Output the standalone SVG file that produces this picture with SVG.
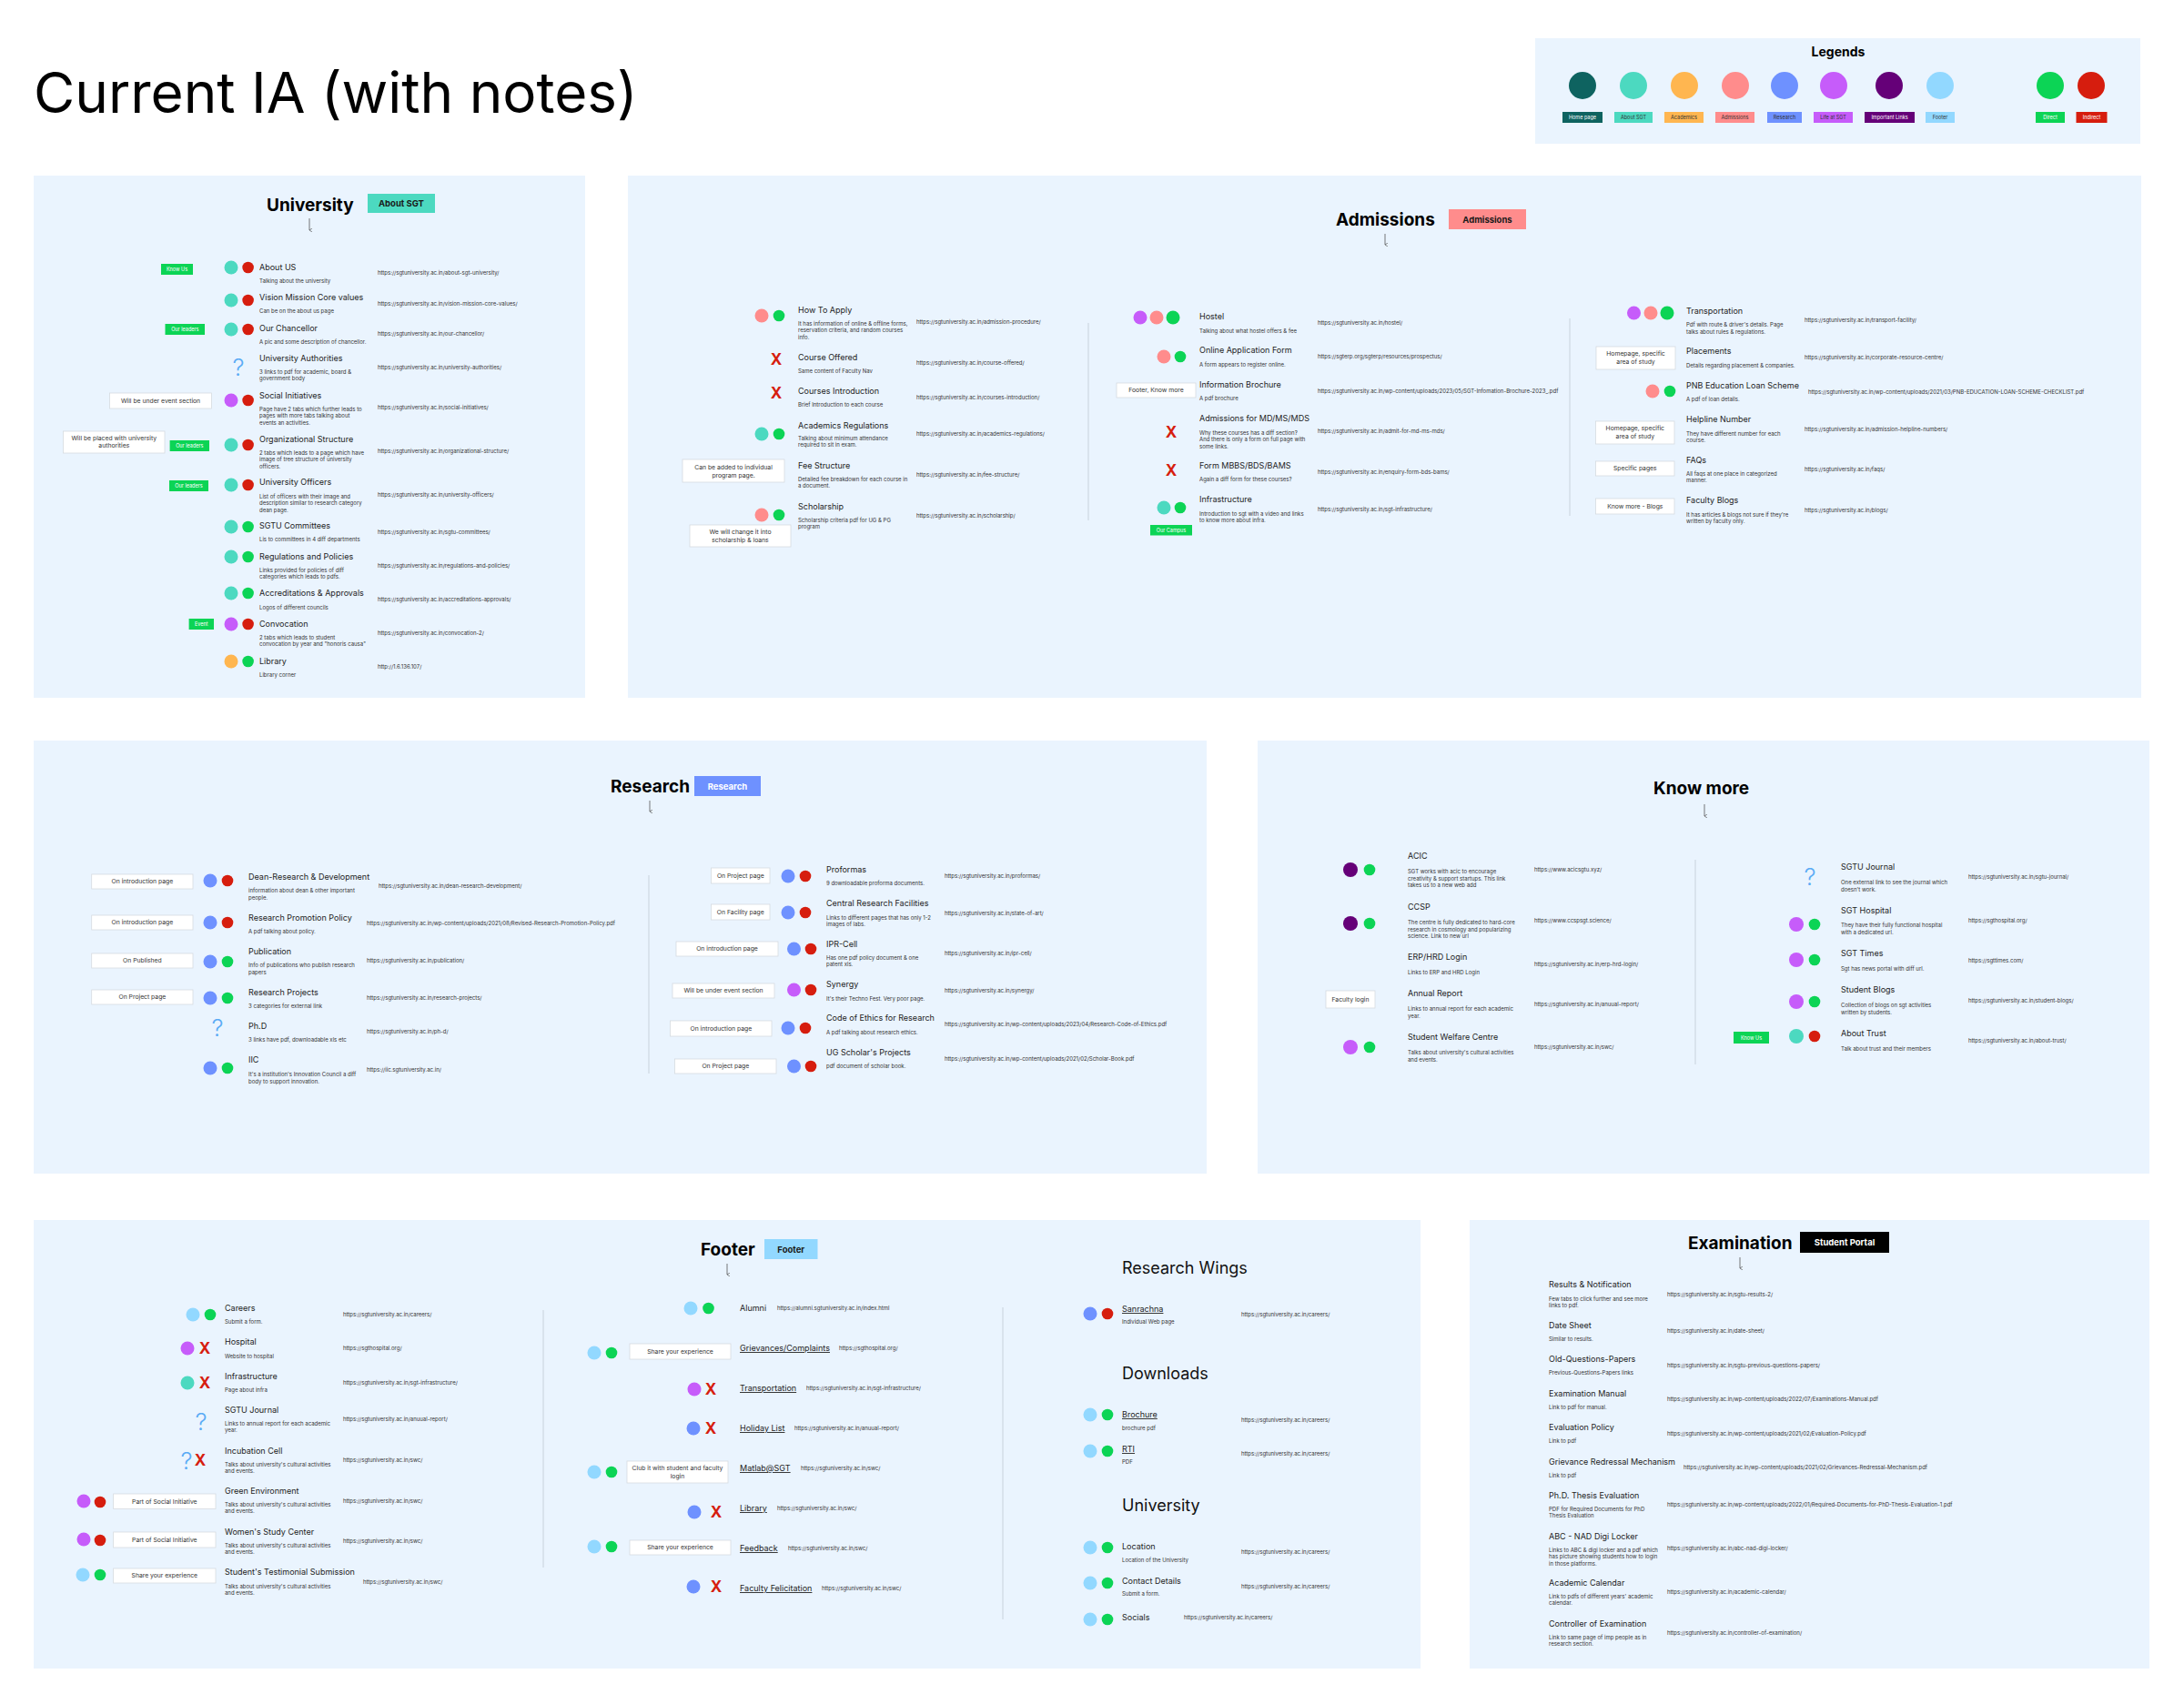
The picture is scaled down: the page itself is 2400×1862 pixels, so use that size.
<svg xmlns="http://www.w3.org/2000/svg" width="2400" height="1862" viewBox="0 0 2400 1862">
<defs>
<marker id="ah" markerWidth="4" markerHeight="4" refX="2" refY="3.5" orient="auto-start-reverse" markerUnits="userSpaceOnUse"><path d="M0,0.5 L2,3.5 L4,0.5" fill="none" stroke="#555" stroke-width="0.7"/></marker>
</defs>
<style>
text{font-family:Inter,"Noto Sans","Liberation Sans",sans-serif}
.pg{font-size:62px;fill:#000}
.panel{fill:#EAF4FE}
.h{font-size:19px;font-weight:700;fill:#000}
.h2{font-size:18px;fill:#111}
.bd{font-size:9.5px;font-weight:700;fill:#1a1a1a;text-anchor:middle}
.bw{font-size:9.5px;font-weight:700;fill:#fff;text-anchor:middle}
.t{font-size:9px;fill:#222}
.tu{font-size:9px;fill:#222;text-decoration:underline}
.d{font-size:6px;fill:#333}
.u{font-size:6px;fill:#333}
.nb{fill:#fff;stroke:#d6dbe0;stroke-width:0.8}
.nt{font-size:6.8px;fill:#333;text-anchor:middle}
.tag{fill:#0CD455}
.tg{font-size:5.5px;fill:#fff;text-anchor:middle}
.lt{font-size:5.5px;text-anchor:middle}
.x{font-size:17px;font-weight:700;fill:#D61D0E;text-anchor:middle}
.q{font-size:26px;font-weight:300;fill:#5AABF5;text-anchor:middle}
.dv{stroke:#c8d2dc;stroke-width:1}
.ar{stroke:#555;stroke-width:0.8;fill:none;marker-end:url(#ah)}
.home{fill:#0E6360}.about{fill:#4CD9C0}.acad{fill:#FFB650}.adm{fill:#FF8C8C}.res{fill:#6E91FF}.life{fill:#C65CFA}.imp{fill:#650078}.foot{fill:#92D8FF}.dir{fill:#0CD455}.ind{fill:#D61D0E}
</style>
<rect width="2400" height="1862" fill="#fff"/>
<text class="pg" x="37" y="124">Current IA (with notes)</text>

<g id="legend">
<rect class="panel" x="1687" y="42" width="665" height="116"/>
<text x="2020" y="62" font-size="14" font-weight="700" text-anchor="middle" fill="#000">Legends</text>
<circle class="home" cx="1739" cy="94" r="15"/><circle class="about" cx="1795" cy="94" r="15"/><circle class="acad" cx="1851" cy="94" r="15"/><circle class="adm" cx="1907" cy="94" r="15"/><circle class="res" cx="1961" cy="94" r="15"/><circle class="life" cx="2015" cy="94" r="15"/><circle class="imp" cx="2076" cy="94" r="15"/><circle class="foot" cx="2132" cy="94" r="15"/><circle class="dir" cx="2253" cy="94" r="15"/><circle class="ind" cx="2298" cy="94" r="15"/>
<rect class="home" x="1717" y="123" width="44" height="12"/><text class="lt" x="1739" y="131" fill="#fff">Home page</text>
<rect class="about" x="1774" y="123" width="42" height="12"/><text class="lt" x="1795" y="131" fill="#333">About SGT</text>
<rect class="acad" x="1829" y="123" width="43" height="12"/><text class="lt" x="1850.5" y="131" fill="#333">Academics</text>
<rect class="adm" x="1885" y="123" width="43" height="12"/><text class="lt" x="1906.5" y="131" fill="#333">Admissions</text>
<rect class="res" x="1942" y="123" width="38" height="12"/><text class="lt" x="1961" y="131" fill="#333">Research</text>
<rect class="life" x="1993" y="123" width="43" height="12"/><text class="lt" x="2014.5" y="131" fill="#333">Life at SGT</text>
<rect class="imp" x="2049" y="123" width="55" height="12"/><text class="lt" x="2076.5" y="131" fill="#fff">Important Links</text>
<rect class="foot" x="2116" y="123" width="32" height="12"/><text class="lt" x="2132" y="131" fill="#333">Footer</text>
<rect class="dir" x="2237" y="123" width="32" height="12"/><text class="lt" x="2253" y="131" fill="#fff">Direct</text>
<rect class="ind" x="2281.5" y="123" width="34" height="12"/><text class="lt" x="2298.5" y="131" fill="#fff">Indirect</text>
</g>

<g id="panels">
<rect class="panel" x="37" y="193" width="606" height="574"/>
<rect class="panel" x="690" y="193" width="1663" height="574"/>
<rect class="panel" x="37" y="814" width="1289" height="476"/>
<rect class="panel" x="1382" y="814" width="980" height="476"/>
<rect class="panel" x="37" y="1341" width="1524" height="493"/>
<rect class="panel" x="1615" y="1341" width="747" height="493"/>
</g>

<g id="connectors">
<line class="ar" x1="340" y1="240" x2="340" y2="253"/>
<line class="ar" x1="1522" y1="257" x2="1522" y2="269"/>
<line class="ar" x1="714" y1="880" x2="714" y2="892"/>
<line class="ar" x1="1873" y1="884" x2="1873" y2="897"/>
<line class="ar" x1="799" y1="1389" x2="799" y2="1401"/>
<line class="ar" x1="1912" y1="1382" x2="1912" y2="1394"/>
<line class="dv" x1="1196" y1="355" x2="1196" y2="572"/>
<line class="dv" x1="1725" y1="350" x2="1725" y2="567"/>
<line class="dv" x1="713" y1="962" x2="713" y2="1180"/>
<line class="dv" x1="1863" y1="945" x2="1863" y2="1170"/>
<line class="dv" x1="597" y1="1440" x2="597" y2="1723"/>
<line class="dv" x1="1102" y1="1437" x2="1102" y2="1780"/>
</g>

<!-- UNIVERSITY -->
<g id="university-head">
<text class="h" x="293" y="232">University</text>
<rect class="about" x="404" y="213" width="74" height="21"/><text class="bd" x="441" y="227">About SGT</text>
</g>
<g id="u-about-us"><rect class="tag" x="177" y="290" width="35" height="12"/><text class="tg" x="194.5" y="298">Know Us</text>
<circle class="about" cx="254" cy="294" r="7.5"/><circle class="ind" cx="272.6" cy="294" r="6.3"/>
<text class="t" x="285" y="297">About US</text><text class="d" x="285" y="311">Talking about the university</text><text class="u" x="415" y="302">https://sgtuniversity.ac.in/about-sgt-university/</text></g>
<g id="u-vision"><circle class="about" cx="254" cy="330" r="7.5"/><circle class="ind" cx="272.6" cy="330" r="6.3"/>
<text class="t" x="285" y="330">Vision Mission Core values</text><text class="d" x="285" y="344">Can be on the about us page</text><text class="u" x="415" y="336">https://sgtuniversity.ac.in/vision-mission-core-values/</text></g>
<g id="u-chancellor"><rect class="tag" x="181.5" y="356" width="43.5" height="12"/><text class="tg" x="203.3" y="364">Our leaders</text>
<circle class="about" cx="254" cy="362" r="7.5"/><circle class="ind" cx="272.6" cy="362" r="6.3"/>
<text class="t" x="285" y="364">Our Chancellor</text><text class="d" x="285" y="378">A pic and some description of chancellor.</text><text class="u" x="415" y="369">https://sgtuniversity.ac.in/our-chancellor/</text></g>
<g id="u-authorities"><text class="q" x="262" y="412.5">?</text>
<text class="t" x="285" y="397">University Authorities</text><text class="d" x="285" y="411">3 links to pdf for academic, board &amp;<tspan x="285" dy="7.3">government body</tspan></text><text class="u" x="415" y="406">https://sgtuniversity.ac.in/university-authorities/</text></g>
<g id="u-social"><rect class="nb" x="120.5" y="432" width="112" height="17"/><text class="nt" x="176.5" y="443">Will be under event section</text>
<circle class="life" cx="254" cy="440" r="7.5"/><circle class="ind" cx="272.6" cy="440" r="6.3"/>
<text class="t" x="285" y="438">Social Initiatives</text><text class="d" x="285" y="452">Page have 2 tabs which further leads to<tspan x="285" dy="7.3">pages with more tabs talking about</tspan><tspan x="285" dy="7.3">events an activities.</tspan></text><text class="u" x="415" y="450">https://sgtuniversity.ac.in/social-initiatives/</text></g>
<g id="u-org"><rect class="nb" x="69.5" y="474" width="111.5" height="24"/><text class="nt" x="125.3" y="484">Will be placed with university<tspan x="125.3" dy="8">authorities</tspan></text>
<rect class="tag" x="186.6" y="484" width="43.4" height="12"/><text class="tg" x="208.3" y="492">Our leaders</text>
<circle class="about" cx="254" cy="489" r="7.5"/><circle class="ind" cx="272.6" cy="489" r="6.3"/>
<text class="t" x="285" y="486">Organizational Structure</text><text class="d" x="285" y="500">2 tabs which leads to a page which have<tspan x="285" dy="7.3">image of tree structure of university</tspan><tspan x="285" dy="7.3">officers.</tspan></text><text class="u" x="415" y="498">https://sgtuniversity.ac.in/organizational-structure/</text></g>
<g id="u-officers"><rect class="tag" x="186" y="528" width="43" height="12"/><text class="tg" x="207.5" y="536">Our leaders</text>
<circle class="about" cx="254" cy="533" r="7.5"/><circle class="ind" cx="272.6" cy="533" r="6.3"/>
<text class="t" x="285" y="533">University Officers</text><text class="d" x="285" y="548">List of officers with their image and<tspan x="285" dy="7.3">description similar to research category</tspan><tspan x="285" dy="7.3">dean page.</tspan></text><text class="u" x="415" y="546">https://sgtuniversity.ac.in/university-officers/</text></g>
<g id="u-committees"><circle class="about" cx="254" cy="579" r="7.5"/><circle class="dir" cx="272.6" cy="579" r="6.3"/>
<text class="t" x="285" y="581">SGTU Committees</text><text class="d" x="285" y="595">Lis to committees in 4 diff departments</text><text class="u" x="415" y="587">https://sgtuniversity.ac.in/sgtu-committees/</text></g>
<g id="u-regulations"><circle class="about" cx="254" cy="612" r="7.5"/><circle class="dir" cx="272.6" cy="612" r="6.3"/>
<text class="t" x="285" y="615">Regulations and Policies</text><text class="d" x="285" y="629">Links provided for policies of diff<tspan x="285" dy="7.3">categories which leads to pdfs.</tspan></text><text class="u" x="415" y="624">https://sgtuniversity.ac.in/regulations-and-policies/</text></g>
<g id="u-accreditations"><circle class="about" cx="254" cy="652" r="7.5"/><circle class="dir" cx="272.6" cy="652" r="6.3"/>
<text class="t" x="285" y="655">Accreditations &amp; Approvals</text><text class="d" x="285" y="670">Logos of different councils</text><text class="u" x="415" y="661">https://sgtuniversity.ac.in/accreditations-approvals/</text></g>
<g id="u-convocation"><rect class="tag" x="207.6" y="680" width="27.4" height="12"/><text class="tg" x="221.3" y="688">Event</text>
<circle class="life" cx="254" cy="686" r="7.5"/><circle class="ind" cx="272.6" cy="686" r="6.3"/>
<text class="t" x="285" y="689">Convocation</text><text class="d" x="285" y="703">2 tabs which leads to student<tspan x="285" dy="7.3">convocation by year and "honoris causa"</tspan></text><text class="u" x="415" y="698">https://sgtuniversity.ac.in/convocation-2/</text></g>
<g id="u-library"><circle class="acad" cx="254" cy="727" r="7.5"/><circle class="dir" cx="272.6" cy="727" r="6.3"/>
<text class="t" x="285" y="730">Library</text><text class="d" x="285" y="744">Library corner</text><text class="u" x="415" y="735">http://1.6.136.107/</text></g>

<!-- ADMISSIONS -->
<g id="admissions-head">
<text class="h" x="1468" y="248">Admissions</text>
<rect class="adm" x="1592" y="230" width="85" height="22"/><text class="bd" x="1634.5" y="244.5">Admissions</text>
</g>
<g id="a-apply"><circle class="adm" cx="837" cy="347" r="7.5"/><circle class="dir" cx="856" cy="347" r="6.3"/>
<text class="t" x="877" y="344">How To Apply</text><text class="d" x="877" y="358">It has information of online &amp; offline forms,<tspan x="877" dy="7.3">reservation criteria, and random courses</tspan><tspan x="877" dy="7.3">info.</tspan></text><text class="u" x="1007" y="356">https://sgtuniversity.ac.in/admission-procedure/</text></g>
<g id="a-course-offered"><text class="x" x="853" y="401">X</text>
<text class="t" x="877" y="396">Course Offered</text><text class="d" x="877" y="410">Same content of Faculty Nav</text><text class="u" x="1007" y="401">https://sgtuniversity.ac.in/course-offered/</text></g>
<g id="a-courses-intro"><text class="x" x="853" y="438">X</text>
<text class="t" x="877" y="433">Courses Introduction</text><text class="d" x="877" y="447">Brief Introduction to each course</text><text class="u" x="1007" y="439">https://sgtuniversity.ac.in/courses-introduction/</text></g>
<g id="a-acad-reg"><circle class="about" cx="837" cy="477" r="7.5"/><circle class="dir" cx="856" cy="477" r="6.3"/>
<text class="t" x="877" y="471">Academics Regulations</text><text class="d" x="877" y="484">Talking about minimum attendance<tspan x="877" dy="7.3">required to sit in exam.</tspan></text><text class="u" x="1007" y="479">https://sgtuniversity.ac.in/academics-regulations/</text></g>
<g id="a-fee"><rect class="nb" x="750" y="505" width="112" height="25"/><text class="nt" x="806" y="516">Can be added to individual<tspan x="806" dy="8.5">program page.</tspan></text>
<text class="t" x="877" y="515">Fee Structure</text><text class="d" x="877" y="529">Detailed fee breakdown for each course in<tspan x="877" dy="7.3">a document.</tspan></text><text class="u" x="1007" y="524">https://sgtuniversity.ac.in/fee-structure/</text></g>
<g id="a-scholarship"><circle class="adm" cx="837" cy="566" r="7.5"/><circle class="dir" cx="856" cy="566" r="6.3"/>
<rect class="nb" x="758" y="577" width="111" height="24"/><text class="nt" x="813.5" y="587">We will change it into<tspan x="813.5" dy="8.5">scholarship &amp; loans</tspan></text>
<text class="t" x="877" y="560">Scholarship</text><text class="d" x="877" y="574">Scholarship criteria pdf for UG &amp; PG<tspan x="877" dy="7.3">program</tspan></text><text class="u" x="1007" y="569">https://sgtuniversity.ac.in/scholarship/</text></g>
<g id="a-hostel"><circle class="life" cx="1253" cy="349" r="7.5"/><circle class="adm" cx="1271" cy="349" r="7.5"/><circle class="dir" cx="1289" cy="349" r="7.5"/>
<text class="t" x="1318" y="351">Hostel</text><text class="d" x="1318" y="366">Talking about what hostel offers &amp; fee</text><text class="u" x="1448" y="357">https://sgtuniversity.ac.in/hostel/</text></g>
<g id="a-online-form"><circle class="adm" cx="1279" cy="392" r="7.5"/><circle class="dir" cx="1297" cy="392" r="6.3"/>
<text class="t" x="1318" y="388">Online Application Form</text><text class="d" x="1318" y="403">A form appears to register online.</text><text class="u" x="1448" y="394">https://sgterp.org/sgterp/resources/prospectus/</text></g>
<g id="a-brochure"><rect class="nb" x="1227" y="421" width="87" height="16"/><text class="nt" x="1270.5" y="431">Footer, Know more</text>
<text class="t" x="1318" y="426">Information Brochure</text><text class="d" x="1318" y="440">A pdf brochure</text><text class="u" x="1448" y="432">https://sgtuniversity.ac.in/wp-content/uploads/2023/05/SGT-Infomation-Brochure-2023_.pdf</text></g>
<g id="a-md"><text class="x" x="1287" y="481">X</text>
<text class="t" x="1318" y="463">Admissions for MD/MS/MDS</text><text class="d" x="1318" y="478">Why these courses has a diff section?<tspan x="1318" dy="7.3">And there is only a form on full page with</tspan><tspan x="1318" dy="7.3">some links.</tspan></text><text class="u" x="1448" y="476">https://sgtuniversity.ac.in/admit-for-md-ms-mds/</text></g>
<g id="a-mbbs"><text class="x" x="1287" y="523">X</text>
<text class="t" x="1318" y="515">Form MBBS/BDS/BAMS</text><text class="d" x="1318" y="529">Again a diff form for these courses?</text><text class="u" x="1448" y="521">https://sgtuniversity.ac.in/enquiry-form-bds-bams/</text></g>
<g id="a-infra"><circle class="about" cx="1279" cy="558" r="7.5"/><circle class="dir" cx="1297" cy="558" r="6.3"/>
<rect class="tag" x="1264" y="577" width="46" height="11.5"/><text class="tg" x="1287" y="584.7">Our Campus</text>
<text class="t" x="1318" y="552">Infrastructure</text><text class="d" x="1318" y="567">Introduction to sgt with a video and links<tspan x="1318" dy="7.3">to know more about infra.</tspan></text><text class="u" x="1448" y="562">https://sgtuniversity.ac.in/sgt-infrastructure/</text></g>
<g id="a-transport"><circle class="life" cx="1795.5" cy="344" r="7.5"/><circle class="adm" cx="1814" cy="344" r="7.5"/><circle class="dir" cx="1832" cy="344" r="7.5"/>
<text class="t" x="1853" y="345">Transportation</text><text class="d" x="1853" y="359">Pdf with route &amp; driver's details. Page<tspan x="1853" dy="7.6">talks about rules &amp; regulations.</tspan></text><text class="u" x="1983" y="354">https://sgtuniversity.ac.in/transport-facility/</text></g>
<g id="a-placements"><rect class="nb" x="1754" y="381" width="87" height="25"/><text class="nt" x="1797.5" y="391">Homepage, specific<tspan x="1797.5" dy="8.7">area of study</tspan></text>
<text class="t" x="1853" y="389">Placements</text><text class="d" x="1853" y="404">Details regarding placement &amp; companies.</text><text class="u" x="1983" y="395">https://sgtuniversity.ac.in/corporate-resource-centre/</text></g>
<g id="a-pnb"><circle class="adm" cx="1816" cy="430" r="7.5"/><circle class="dir" cx="1835" cy="430" r="6.3"/>
<text class="t" x="1853" y="427">PNB Education Loan Scheme</text><text class="d" x="1853" y="441">A pdf of loan details.</text><text class="u" x="1987" y="433">https://sgtuniversity.ac.in/wp-content/uploads/2021/03/PNB-EDUCATION-LOAN-SCHEME-CHECKLIST.pdf</text></g>
<g id="a-helpline"><rect class="nb" x="1753.5" y="463" width="86.5" height="25"/><text class="nt" x="1796.8" y="473">Homepage, specific<tspan x="1796.8" dy="8.7">area of study</tspan></text>
<text class="t" x="1853" y="464">Helpline Number</text><text class="d" x="1853" y="479">They have different number for each<tspan x="1853" dy="7.3">course.</tspan></text><text class="u" x="1983" y="474">https://sgtuniversity.ac.in/admission-helpline-numbers/</text></g>
<g id="a-faqs"><rect class="nb" x="1753.5" y="507" width="86.5" height="16"/><text class="nt" x="1796.8" y="517">Specific pages</text>
<text class="t" x="1853" y="509">FAQs</text><text class="d" x="1853" y="523">All faqs at one place in categorized<tspan x="1853" dy="7.3">manner.</tspan></text><text class="u" x="1983" y="518">https://sgtuniversity.ac.in/faqs/</text></g>
<g id="a-faculty-blogs"><rect class="nb" x="1753.5" y="548" width="86.5" height="17"/><text class="nt" x="1796.8" y="559">Know more - Blogs</text>
<text class="t" x="1853" y="553">Faculty Blogs</text><text class="d" x="1853" y="568">It has articles &amp; blogs not sure if they're<tspan x="1853" dy="7.3">written by faculty only.</tspan></text><text class="u" x="1983" y="563">https://sgtuniversity.ac.in/blogs/</text></g>

<!-- RESEARCH -->
<g id="research-head">
<text class="h" x="671" y="871">Research</text>
<rect class="res" x="763" y="853" width="73" height="22"/><text class="bw" x="799.5" y="867.5">Research</text>
</g>
<g id="r-dean"><rect class="nb" x="100.7" y="961" width="111.3" height="16"/><text class="nt" x="156.4" y="971">On introduction page</text>
<circle class="res" cx="231" cy="968" r="7.5"/><circle class="ind" cx="250" cy="968" r="6.3"/>
<text class="t" x="273" y="967">Dean-Research &amp; Development</text><text class="d" x="273" y="981">information about dean &amp; other important<tspan x="273" dy="7.5">people.</tspan></text><text class="u" x="416" y="976">https://sgtuniversity.ac.in/dean-research-development/</text></g>
<g id="r-promotion"><rect class="nb" x="100.7" y="1006" width="111.3" height="16"/><text class="nt" x="156.4" y="1016">On introduction page</text>
<circle class="res" cx="231" cy="1014" r="7.5"/><circle class="ind" cx="250" cy="1014" r="6.3"/>
<text class="t" x="273" y="1012">Research Promotion Policy</text><text class="d" x="273" y="1026">A pdf talking about policy.</text><text class="u" x="403" y="1017">https://sgtuniversity.ac.in/wp-content/uploads/2021/08/Revised-Research-Promotion-Policy.pdf</text></g>
<g id="r-publication"><rect class="nb" x="100.7" y="1048" width="111.3" height="16"/><text class="nt" x="156.4" y="1058">On Published</text>
<circle class="res" cx="231" cy="1057" r="7.5"/><circle class="dir" cx="250" cy="1057" r="6.3"/>
<text class="t" x="273" y="1049">Publication</text><text class="d" x="273" y="1063">Info of publications who publish research<tspan x="273" dy="7.5">papers</tspan></text><text class="u" x="403" y="1058">https://sgtuniversity.ac.in/publication/</text></g>
<g id="r-projects"><rect class="nb" x="100.7" y="1088" width="111.3" height="16"/><text class="nt" x="156.4" y="1098">On Project page</text>
<circle class="res" cx="231" cy="1097" r="7.5"/><circle class="dir" cx="250" cy="1097" r="6.3"/>
<text class="t" x="273" y="1094">Research Projects</text><text class="d" x="273" y="1108">3 categories for external link</text><text class="u" x="403" y="1099">https://sgtuniversity.ac.in/research-projects/</text></g>
<g id="r-phd"><text class="q" x="239" y="1138.5">?</text>
<text class="t" x="273" y="1131">Ph.D</text><text class="d" x="273" y="1145">3 links have pdf, downloadable xls etc</text><text class="u" x="403" y="1136">https://sgtuniversity.ac.in/ph-d/</text></g>
<g id="r-iic"><circle class="res" cx="231" cy="1174" r="7.5"/><circle class="dir" cx="250" cy="1174" r="6.3"/>
<text class="t" x="273" y="1168">IIC</text><text class="d" x="273" y="1183">It's a institution's Innovation Council a diff<tspan x="273" dy="7.5">body to support innovation.</tspan></text><text class="u" x="403" y="1178">https://iic.sgtuniversity.ac.in/</text></g>
<g id="r-proformas"><rect class="nb" x="781.5" y="954" width="64.5" height="17"/><text class="nt" x="813.8" y="965">On Project page</text>
<circle class="res" cx="866" cy="963" r="7.5"/><circle class="ind" cx="885" cy="963" r="6.3"/>
<text class="t" x="908" y="959">Proformas</text><text class="d" x="908" y="973">9 downloadable proforma documents.</text><text class="u" x="1038" y="965">https://sgtuniversity.ac.in/proformas/</text></g>
<g id="r-facilities"><rect class="nb" x="781.5" y="994" width="64.5" height="17"/><text class="nt" x="813.8" y="1005">On Facility page</text>
<circle class="res" cx="866" cy="1003" r="7.5"/><circle class="ind" cx="885" cy="1003" r="6.3"/>
<text class="t" x="908" y="996">Central Research Facilities</text><text class="d" x="908" y="1011">Links to different pages that has only 1-2<tspan x="908" dy="7.3">images of labs.</tspan></text><text class="u" x="1038" y="1006">https://sgtuniversity.ac.in/state-of-art/</text></g>
<g id="r-ipr"><rect class="nb" x="743" y="1035" width="112" height="16"/><text class="nt" x="799" y="1045">On introduction page</text>
<circle class="res" cx="872.5" cy="1043" r="7.5"/><circle class="ind" cx="891" cy="1043" r="6.3"/>
<text class="t" x="908" y="1041">IPR-Cell</text><text class="d" x="908" y="1055">Has one pdf policy document &amp; one<tspan x="908" dy="7.3">patent xls.</tspan></text><text class="u" x="1038" y="1050">https://sgtuniversity.ac.in/ipr-cell/</text></g>
<g id="r-synergy"><rect class="nb" x="739" y="1081" width="112" height="16"/><text class="nt" x="795" y="1091">Will be under event section</text>
<circle class="life" cx="872.5" cy="1088" r="7.5"/><circle class="ind" cx="891" cy="1088" r="6.3"/>
<text class="t" x="908" y="1085">Synergy</text><text class="d" x="908" y="1100">It's their Techno Fest. Very poor page.</text><text class="u" x="1038" y="1091">https://sgtuniversity.ac.in/synergy/</text></g>
<g id="r-ethics"><rect class="nb" x="736.5" y="1122" width="111.5" height="17"/><text class="nt" x="792.3" y="1133">On introduction page</text>
<circle class="res" cx="866" cy="1130" r="7.5"/><circle class="ind" cx="885" cy="1130" r="6.3"/>
<text class="t" x="908" y="1122">Code of Ethics for Research</text><text class="d" x="908" y="1137">A pdf talking about research ethics.</text><text class="u" x="1038" y="1128">https://sgtuniversity.ac.in/wp-content/uploads/2023/04/Research-Code-of-Ethics.pdf</text></g>
<g id="r-ug"><rect class="nb" x="741.6" y="1164" width="111.4" height="16"/><text class="nt" x="797.3" y="1174">On Project page</text>
<circle class="res" cx="872.5" cy="1172" r="7.5"/><circle class="ind" cx="891" cy="1172" r="6.3"/>
<text class="t" x="908" y="1160">UG Scholar's Projects</text><text class="d" x="908" y="1174">pdf document of scholar book.</text><text class="u" x="1038" y="1166">https://sgtuniversity.ac.in/wp-content/uploads/2021/02/Scholar-Book.pdf</text></g>

<!-- KNOW MORE -->
<g id="knowmore-head"><text class="h" x="1817" y="873">Know more</text></g>
<g id="k-acic"><circle class="imp" cx="1484" cy="956" r="8"/><circle class="dir" cx="1505" cy="956" r="6.3"/>
<text class="t" x="1547" y="944">ACIC</text><text class="d" x="1547" y="960">SGT works with acic to encourage<tspan x="1547" dy="7.6">creativity &amp; support startups. This link</tspan><tspan x="1547" dy="7.6">takes us to a new web add</tspan></text><text class="u" x="1686" y="958">https://www.acicsgtu.xyz/</text></g>
<g id="k-ccsp"><circle class="imp" cx="1484" cy="1015" r="8"/><circle class="dir" cx="1505" cy="1015" r="6.3"/>
<text class="t" x="1547" y="1000">CCSP</text><text class="d" x="1547" y="1016">The centre is fully dedicated to hard-core<tspan x="1547" dy="7.6">research in cosmology and popularizing</tspan><tspan x="1547" dy="7.6">science. Link to new url</tspan></text><text class="u" x="1686" y="1014">https://www.ccspsgt.science/</text></g>
<g id="k-erp"><text class="t" x="1547" y="1055">ERP/HRD Login</text><text class="d" x="1547" y="1071">Links to ERP and HRD Login</text><text class="u" x="1686" y="1062">https://sgtuniversity.ac.in/erp-hrd-login/</text></g>
<g id="k-annual"><rect class="nb" x="1457" y="1089" width="54" height="19"/><text class="nt" x="1484" y="1101">Faculty login</text>
<text class="t" x="1547" y="1095">Annual Report</text><text class="d" x="1547" y="1111">Links to annual report for each academic<tspan x="1547" dy="8">year.</tspan></text><text class="u" x="1686" y="1106">https://sgtuniversity.ac.in/anuual-report/</text></g>
<g id="k-swc"><circle class="life" cx="1484" cy="1151" r="8"/><circle class="dir" cx="1505" cy="1151" r="6.3"/>
<text class="t" x="1547" y="1143">Student Welfare Centre</text><text class="d" x="1547" y="1159">Talks about university's cultural activities<tspan x="1547" dy="8">and events.</tspan></text><text class="u" x="1686" y="1153">https://sgtuniversity.ac.in/swc/</text></g>
<g id="k-journal"><text class="q" x="1989" y="972.5">?</text>
<text class="t" x="2023" y="956">SGTU Journal</text><text class="d" x="2023" y="972">One external link to see the journal which<tspan x="2023" dy="7.5">doesn't work.</tspan></text><text class="u" x="2163" y="966">https://sgtuniversity.ac.in/sgtu-journal/</text></g>
<g id="k-hospital"><circle class="life" cx="1974" cy="1016" r="8"/><circle class="dir" cx="1994" cy="1016" r="6.3"/>
<text class="t" x="2023" y="1004">SGT Hospital</text><text class="d" x="2023" y="1019">They have their fully functional hospital<tspan x="2023" dy="7.8">with a dedicated url.</tspan></text><text class="u" x="2163" y="1014">https://sgthospital.org/</text></g>
<g id="k-times"><circle class="life" cx="1974" cy="1055" r="8"/><circle class="dir" cx="1994" cy="1055" r="6.3"/>
<text class="t" x="2023" y="1051">SGT Times</text><text class="d" x="2023" y="1067">Sgt has news portal with diff url.</text><text class="u" x="2163" y="1058">https://sgttimes.com/</text></g>
<g id="k-blogs"><circle class="life" cx="1974" cy="1101" r="8"/><circle class="dir" cx="1994" cy="1101" r="6.3"/>
<text class="t" x="2023" y="1091">Student Blogs</text><text class="d" x="2023" y="1107">Collection of blogs on sgt activities<tspan x="2023" dy="8">written by students.</tspan></text><text class="u" x="2163" y="1102">https://sgtuniversity.ac.in/student-blogs/</text></g>
<g id="k-trust"><rect class="tag" x="1905" y="1134" width="39" height="13"/><text class="tg" x="1924.5" y="1142.5">Know Us</text>
<circle class="about" cx="1974" cy="1139" r="8"/><circle class="ind" cx="1994" cy="1139" r="6.3"/>
<text class="t" x="2023" y="1139">About Trust</text><text class="d" x="2023" y="1155">Talk about trust and their members</text><text class="u" x="2163" y="1146">https://sgtuniversity.ac.in/about-trust/</text></g>

<!-- FOOTER -->
<g id="footer-head">
<text class="h" x="770" y="1380">Footer</text>
<rect class="foot" x="840" y="1362" width="58.5" height="22"/><text class="bd" x="869.3" y="1376.5">Footer</text>
</g>
<g id="f-careers"><circle class="foot" cx="212" cy="1445" r="7.5"/><circle class="dir" cx="231" cy="1445" r="6.3"/>
<text class="t" x="247" y="1441">Careers</text><text class="d" x="247" y="1455">Submit a form.</text><text class="u" x="377" y="1447">https://sgtuniversity.ac.in/careers/</text></g>
<g id="f-hospital"><circle class="life" cx="206" cy="1482" r="7.5"/><text class="x" x="225" y="1488">X</text>
<text class="t" x="247" y="1478">Hospital</text><text class="d" x="247" y="1493">Website to hospital</text><text class="u" x="377" y="1484">https://sgthospital.org/</text></g>
<g id="f-infra"><circle class="about" cx="206" cy="1520" r="7.5"/><text class="x" x="225" y="1526">X</text>
<text class="t" x="247" y="1516">Infrastructure</text><text class="d" x="247" y="1530">Page about infra</text><text class="u" x="377" y="1522">https://sgtuniversity.ac.in/sgt-infrastructure/</text></g>
<g id="f-journal"><text class="q" x="221" y="1571.5">?</text>
<text class="t" x="247" y="1553">SGTU Journal</text><text class="d" x="247" y="1567">Links to annual report for each academic<tspan x="247" dy="7.3">year.</tspan></text><text class="u" x="377" y="1562">https://sgtuniversity.ac.in/anuual-report/</text></g>
<g id="f-incubation"><text class="q" x="205" y="1614.5">?</text><text class="x" x="220" y="1611">X</text>
<text class="t" x="247" y="1598">Incubation Cell</text><text class="d" x="247" y="1612">Talks about university's cultural activities<tspan x="247" dy="7.3">and events.</tspan></text><text class="u" x="377" y="1607">https://sgtuniversity.ac.in/swc/</text></g>
<g id="f-green"><circle class="life" cx="92" cy="1650" r="7.5"/><circle class="ind" cx="110" cy="1651" r="6.3"/>
<rect class="nb" x="124.6" y="1642" width="112.4" height="16.6"/><text class="nt" x="180.8" y="1652.5">Part of Social Initiative</text>
<text class="t" x="247" y="1642">Green Environment</text><text class="d" x="247" y="1656">Talks about university's cultural activities<tspan x="247" dy="7.3">and events.</tspan></text><text class="u" x="377" y="1652">https://sgtuniversity.ac.in/swc/</text></g>
<g id="f-women"><circle class="life" cx="92" cy="1692" r="7.5"/><circle class="ind" cx="110" cy="1693" r="6.3"/>
<rect class="nb" x="124.6" y="1684" width="112.4" height="17"/><text class="nt" x="180.8" y="1695">Part of Social Initiative</text>
<text class="t" x="247" y="1687">Women's Study Center</text><text class="d" x="247" y="1701">Talks about university's cultural activities<tspan x="247" dy="7.3">and events.</tspan></text><text class="u" x="377" y="1696">https://sgtuniversity.ac.in/swc/</text></g>
<g id="f-testimonial"><circle class="foot" cx="91" cy="1731" r="7.5"/><circle class="dir" cx="110" cy="1731" r="6.3"/>
<rect class="nb" x="124.6" y="1724" width="112.4" height="16"/><text class="nt" x="180.8" y="1734">Share your experience</text>
<text class="t" x="247" y="1731">Student's Testimonial Submission</text><text class="d" x="247" y="1746">Talks about university's cultural activities<tspan x="247" dy="7.3">and events.</tspan></text><text class="u" x="399" y="1741">https://sgtuniversity.ac.in/swc/</text></g>
<g id="f-alumni"><circle class="foot" cx="759" cy="1438" r="7.5"/><circle class="dir" cx="778.5" cy="1438" r="6.3"/>
<text class="t" x="813" y="1441">Alumni</text><text class="u" x="854" y="1440">https://alumni.sgtuniversity.ac.in/index.html</text></g>
<g id="f-grievances"><circle class="foot" cx="653" cy="1487" r="7.5"/><circle class="dir" cx="672" cy="1487" r="6.3"/>
<rect class="nb" x="692" y="1477" width="111" height="17"/><text class="nt" x="747.5" y="1487.5">Share your experience</text>
<text class="tu" x="813" y="1485">Grievances/Complaints</text><text class="u" x="922" y="1484">https://sgthospital.org/</text></g>
<g id="f-transport"><circle class="life" cx="763" cy="1527" r="7.5"/><text class="x" x="781" y="1533">X</text>
<text class="tu" x="813" y="1529">Transportation</text><text class="u" x="886" y="1528">https://sgtuniversity.ac.in/sgt-infrastructure/</text></g>
<g id="f-holiday"><circle class="res" cx="762" cy="1570" r="7.5"/><text class="x" x="781" y="1576">X</text>
<text class="tu" x="813" y="1573">Holiday List</text><text class="u" x="873" y="1572">https://sgtuniversity.ac.in/anuual-report/</text></g>
<g id="f-matlab"><circle class="foot" cx="653" cy="1618" r="7.5"/><circle class="dir" cx="672" cy="1618" r="6.3"/>
<rect class="nb" x="689" y="1606" width="111" height="24"/><text class="nt" x="744.5" y="1616">Club it with student and faculty<tspan x="744.5" dy="8.5">login</tspan></text>
<text class="tu" x="813" y="1617">Matlab@SGT</text><text class="u" x="880" y="1616">https://sgtuniversity.ac.in/swc/</text></g>
<g id="f-library"><circle class="res" cx="763" cy="1662" r="7.5"/><text class="x" x="787" y="1668">X</text>
<text class="tu" x="813" y="1661">Library</text><text class="u" x="854" y="1660">https://sgtuniversity.ac.in/swc/</text></g>
<g id="f-feedback"><circle class="foot" cx="653" cy="1700" r="7.5"/><circle class="dir" cx="672" cy="1700" r="6.3"/>
<rect class="nb" x="692" y="1693" width="111" height="16"/><text class="nt" x="747.5" y="1703">Share your experience</text>
<text class="tu" x="813" y="1705">Feedback</text><text class="u" x="866" y="1704">https://sgtuniversity.ac.in/swc/</text></g>
<g id="f-felicitation"><circle class="res" cx="762" cy="1744" r="7.5"/><text class="x" x="787" y="1750">X</text>
<text class="tu" x="813" y="1749">Faculty Felicitation</text><text class="u" x="903" y="1748">https://sgtuniversity.ac.in/swc/</text></g>
<g id="f-research-wings"><text class="h2" x="1233" y="1400">Research Wings</text></g>
<g id="f-sanrachna"><circle class="res" cx="1198" cy="1444" r="7.5"/><circle class="ind" cx="1217" cy="1444" r="6.3"/>
<text class="tu" x="1233" y="1442">Sanrachna</text><text class="d" x="1233" y="1455">Individual Web page</text><text class="u" x="1364" y="1447">https://sgtuniversity.ac.in/careers/</text></g>
<g id="f-downloads"><text class="h2" x="1233" y="1516">Downloads</text></g>
<g id="f-brochure"><circle class="foot" cx="1198" cy="1555" r="7.5"/><circle class="dir" cx="1217" cy="1555" r="6.3"/>
<text class="tu" x="1233" y="1558">Brochure</text><text class="d" x="1233" y="1572">brochure pdf</text><text class="u" x="1364" y="1563">https://sgtuniversity.ac.in/careers/</text></g>
<g id="f-rti"><circle class="foot" cx="1198" cy="1595" r="7.5"/><circle class="dir" cx="1217" cy="1595" r="6.3"/>
<text class="tu" x="1233" y="1596">RTI</text><text class="d" x="1233" y="1609">PDF</text><text class="u" x="1364" y="1600">https://sgtuniversity.ac.in/careers/</text></g>
<g id="f-university"><text class="h2" x="1233" y="1661">University</text></g>
<g id="f-location"><circle class="foot" cx="1198" cy="1701" r="7.5"/><circle class="dir" cx="1217" cy="1701" r="6.3"/>
<text class="t" x="1233" y="1703">Location</text><text class="d" x="1233" y="1717">Location of the University</text><text class="u" x="1364" y="1708">https://sgtuniversity.ac.in/careers/</text></g>
<g id="f-contact"><circle class="foot" cx="1198" cy="1740" r="7.5"/><circle class="dir" cx="1217" cy="1740" r="6.3"/>
<text class="t" x="1233" y="1741">Contact Details</text><text class="d" x="1233" y="1754">Submit a form.</text><text class="u" x="1364" y="1746">https://sgtuniversity.ac.in/careers/</text></g>
<g id="f-socials"><circle class="foot" cx="1198" cy="1780" r="7.5"/><circle class="dir" cx="1217" cy="1780" r="6.3"/>
<text class="t" x="1233" y="1781">Socials</text><text class="u" x="1301" y="1780">https://sgtuniversity.ac.in/careers/</text></g>

<!-- EXAMINATION -->
<g id="exam-head">
<text class="h" x="1855" y="1373">Examination</text>
<rect x="1978" y="1354" width="98" height="23" fill="#000"/><text class="bw" x="2027" y="1369">Student Portal</text>
</g>
<g id="e-results"><text class="t" x="1702" y="1415">Results &amp; Notification</text><text class="d" x="1702" y="1430">Few tabs to click further and see more<tspan x="1702" dy="7.3">links to pdf.</tspan></text><text class="u" x="1832" y="1425">https://sgtuniversity.ac.in/sgtu-results-2/</text></g>
<g id="e-datesheet"><text class="t" x="1702" y="1460">Date Sheet</text><text class="d" x="1702" y="1474">Similar to results.</text><text class="u" x="1832" y="1465">https://sgtuniversity.ac.in/date-sheet/</text></g>
<g id="e-oldpapers"><text class="t" x="1702" y="1497">Old-Questions-Papers</text><text class="d" x="1702" y="1511">Previous-Questions-Papers links</text><text class="u" x="1832" y="1503">https://sgtuniversity.ac.in/sgtu-previous-questions-papers/</text></g>
<g id="e-manual"><text class="t" x="1702" y="1535">Examination Manual</text><text class="d" x="1702" y="1549">Link to pdf for manual.</text><text class="u" x="1832" y="1540">https://sgtuniversity.ac.in/wp-content/uploads/2022/07/Examinations-Manual.pdf</text></g>
<g id="e-evaluation"><text class="t" x="1702" y="1572">Evaluation Policy</text><text class="d" x="1702" y="1586">Link to pdf</text><text class="u" x="1832" y="1578">https://sgtuniversity.ac.in/wp-content/uploads/2021/02/Evaluation-Policy.pdf</text></g>
<g id="e-grievance"><text class="t" x="1702" y="1610">Grievance Redressal Mechanism</text><text class="d" x="1702" y="1624">Link to pdf</text><text class="u" x="1850" y="1615">https://sgtuniversity.ac.in/wp-content/uploads/2021/02/Grievances-Redressal-Mechanism.pdf</text></g>
<g id="e-phd"><text class="t" x="1702" y="1647">Ph.D. Thesis Evaluation</text><text class="d" x="1702" y="1661">PDF for Required Documents for PhD<tspan x="1702" dy="7.3">Thesis Evaluation</tspan></text><text class="u" x="1832" y="1656">https://sgtuniversity.ac.in/wp-content/uploads/2022/01/Required-Documents-for-PhD-Thesis-Evaluation-1.pdf</text></g>
<g id="e-abc"><text class="t" x="1702" y="1692">ABC - NAD Digi Locker</text><text class="d" x="1702" y="1706">Links to ABC &amp; digi locker and a pdf which<tspan x="1702" dy="7.3">has picture showing students how to login</tspan><tspan x="1702" dy="7.3">in those platforms.</tspan></text><text class="u" x="1832" y="1704">https://sgtuniversity.ac.in/abc-nad-digi-locker/</text></g>
<g id="e-calendar"><text class="t" x="1702" y="1743">Academic Calendar</text><text class="d" x="1702" y="1757">Link to pdfs of different years' academic<tspan x="1702" dy="7.3">calendar.</tspan></text><text class="u" x="1832" y="1752">https://sgtuniversity.ac.in/academic-calendar/</text></g>
<g id="e-controller"><text class="t" x="1702" y="1788">Controller of Examination</text><text class="d" x="1702" y="1802">Link to same page of imp people as in<tspan x="1702" dy="7.3">research section.</tspan></text><text class="u" x="1832" y="1797">https://sgtuniversity.ac.in/controller-of-examination/</text></g>
</svg>
